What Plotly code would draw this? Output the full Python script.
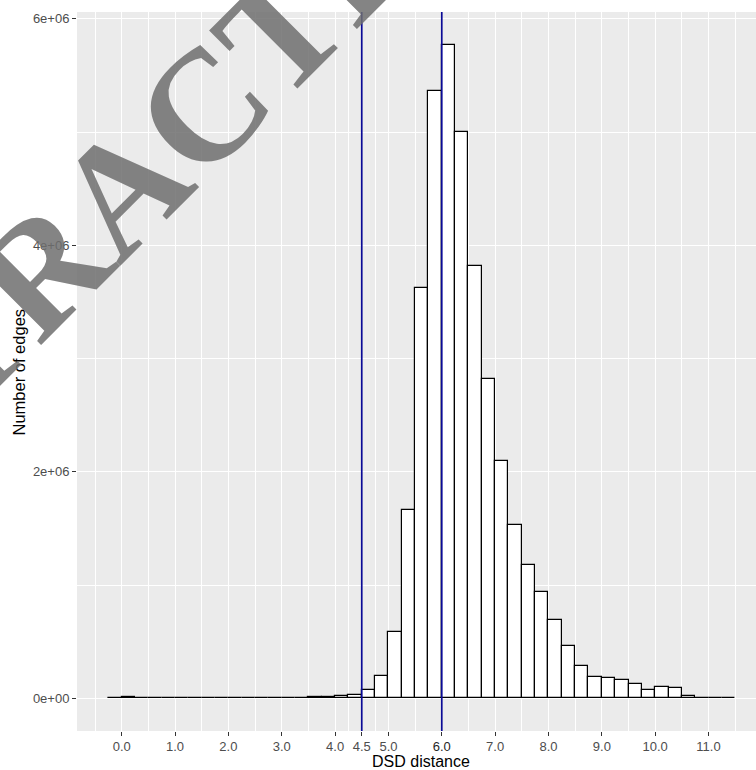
import numpy as np
import plotly.graph_objects as go

# ---- data ----
bin_lefts = [-0.25, 0.0, 0.25, 0.5, 0.75, 1.0, 1.25, 1.5, 1.75, 2.0, 2.25, 2.5, 2.75,
             3.0, 3.25, 3.5, 3.75, 4.0, 4.25, 4.5, 4.75, 5.0, 5.25, 5.5, 5.75, 6.0,
             6.25, 6.5, 6.75, 7.0, 7.25, 7.5, 7.75, 8.0, 8.25, 8.5, 8.75, 9.0, 9.25,
             9.5, 9.75, 10.0, 10.25, 10.5, 10.75, 11.0, 11.25]
bin_width = 0.25
counts = [2000, 12000, 3000, 2000, 2000, 2000, 2000, 2000, 2000, 6000, 5000, 5000, 5000,
          6000, 6000, 9000, 14000, 18000, 32000, 73000, 197000, 585000, 1660000, 3621000,
          5363000, 5772000, 5004000, 3822000, 2822000, 2094000, 1530000, 1180000, 942000,
          691000, 462000, 285000, 191000, 176000, 159000, 124000, 73000, 103000, 88000,
          20000, 4000, 1500, 1000]
vlines = [4.5, 6.0]
x_tickvals = [0, 1, 2, 3, 4, 4.5, 5, 6, 7, 8, 9, 10, 11]
x_ticktext = ["0.0", "1.0", "2.0", "3.0", "4.0", "4.5", "5.0",
              "<span style='color:#262626'>6.0</span>", "7.0", "8.0", "9.0", "10.0", "11.0"]
x_minor = [-0.5, 0.5, 1.5, 2.5, 3.5, 4.25, 4.75, 5.5, 6.5, 7.5, 8.5, 9.5, 10.5, 11.5]
y_tickvals = [0, 2e6, 4e6, 6e6]
y_ticktext = ["0e+00", "2e+06", "4e+06", "6e+06"]
y_minor = [1e6, 3e6, 5e6]
x_title = "DSD distance"
y_title = "Number of edges"
watermark = "RETRACTED"

centers = np.array(bin_lefts) + bin_width / 2

fig = go.Figure()
fig.add_trace(go.Bar(
    x=centers, y=counts, width=bin_width,
    marker=dict(color="white", line=dict(color="black", width=1.2)),
    showlegend=False, hoverinfo="skip",
))

for v in vlines:
    fig.add_shape(type="line", x0=v, x1=v, y0=0, y1=1, xref="x", yref="paper",
                  line=dict(color="#0A0A96", width=1.7), layer="above")

tickfont = dict(family="Liberation Sans, Arial, sans-serif", size=13, color="#4D4D4D")

fig.update_layout(
    width=756, height=770,
    margin=dict(l=77, r=0, t=12, b=39),
    paper_bgcolor="white",
    plot_bgcolor="#EBEBEB",
    bargap=0,
    font=dict(family="Liberation Sans, Arial, sans-serif"),
    xaxis=dict(
        range=[-0.8375, 11.89],
        tickmode="array", tickvals=x_tickvals, ticktext=x_ticktext,
        ticks="outside", ticklen=3.5, tickwidth=1.1, tickcolor="#333333",
        tickfont=tickfont,
        showgrid=True, gridcolor="white", gridwidth=1.2,
        minor=dict(tickmode="array", tickvals=x_minor, showgrid=True,
                   gridcolor="white", gridwidth=0.6, ticks=""),
        zeroline=False, showline=False,
    ),
    yaxis=dict(
        range=[-288600, 6060600],
        tickmode="array", tickvals=y_tickvals, ticktext=y_ticktext,
        ticks="outside", ticklen=4, tickwidth=1.1, tickcolor="#333333",
        tickfont=tickfont,
        showgrid=True, gridcolor="white", gridwidth=1.2,
        minor=dict(tickmode="array", tickvals=y_minor, showgrid=True,
                   gridcolor="white", gridwidth=0.6, ticks=""),
        zeroline=False, showline=False,
    ),
)

# axis titles (positioned to match the cropped ggplot panel)
fig.add_annotation(text=x_title, xref="paper", yref="paper",
                   x=(421 - 77) / 679, y=-(761.5 - 731) / 719,
                   xanchor="center", yanchor="middle", showarrow=False, borderpad=0,
                   font=dict(family="Liberation Sans, Arial, sans-serif", size=16, color="black"))
fig.add_annotation(text=y_title, xref="paper", yref="paper",
                   x=-(77 - 18.5) / 679, y=(731 - 372) / 719, textangle=-90,
                   xanchor="center", yanchor="middle", showarrow=False, borderpad=0,
                   font=dict(family="Liberation Sans, Arial, sans-serif", size=16.5, color="black"))

# watermark
fig.add_annotation(text="<b>" + watermark + "</b>", xref="paper", yref="paper",
                   x=(122 - 77) / 679, y=(731 - 189) / 719, textangle=-45,
                   xanchor="center", yanchor="middle", showarrow=False,
                   font=dict(family="Liberation Serif, Times New Roman, serif", size=158,
                             color="rgba(110,110,110,0.85)"))

fig.write_html("out.html")
